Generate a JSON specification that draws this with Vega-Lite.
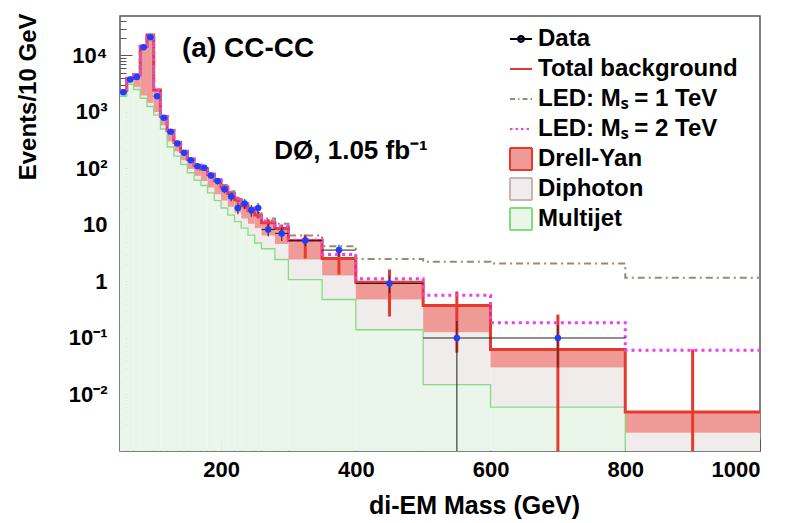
{
  "$schema": "https://vega.github.io/schema/vega-lite/v6.json",
  "width": 640,
  "height": 435,
  "autosize": {"type": "none"},
  "padding": {"left": 120, "top": 16, "right": 44, "bottom": 72},
  "background": "white",
  "config": {
    "view": {"stroke": "#555555", "strokeWidth": 1.5},
    "font": "Liberation Sans",
    "axis": {"grid": false, "domain": false, "labelFont": "Liberation Sans", "labelFontWeight": "bold", "labelFontSize": 22, "labelColor": "black", "titleFont": "Liberation Sans", "titleFontWeight": "bold", "titleFontSize": 24, "titleColor": "black", "tickColor": "#555555", "tickWidth": 1},
    "legend": {"symbolOpacity": 1}
  },
  "datasets": {
    "bins": [
      {"lo":50,"hi":60,"c":55,"tot":2400,"dp":2050,"mj":1900,"led1":2410,"led2":2405,"elo":2330,"ehi":2470},
      {"lo":60,"hi":70,"c":65,"tot":3950,"dp":3300,"mj":3100,"led1":3960,"led2":3955,"elo":3850,"ehi":4050},
      {"lo":70,"hi":80,"c":75,"tot":4550,"dp":2750,"mj":2500,"led1":4560,"led2":4555,"elo":4430,"ehi":4670},
      {"lo":80,"hi":90,"c":85,"tot":14600,"dp":1950,"mj":1750,"led1":14620,"led2":14610,"elo":14300,"ehi":14900},
      {"lo":90,"hi":100,"c":95,"tot":23000,"dp":1450,"mj":1250,"led1":23030,"led2":23010,"elo":22600,"ehi":23400},
      {"lo":100,"hi":110,"c":105,"tot":2450,"dp":1000,"mj":880,"led1":2460,"led2":2455,"elo":2380,"ehi":2520},
      {"lo":110,"hi":120,"c":115,"tot":830,"dp":580,"mj":500,"led1":836,"led2":833,"elo":800,"ehi":860},
      {"lo":120,"hi":130,"c":125,"tot":470,"dp":300,"mj":240,"led1":475,"led2":472,"elo":450,"ehi":490},
      {"lo":130,"hi":140,"c":135,"tot":290,"dp":200,"mj":165,"led1":294,"led2":292,"elo":277,"ehi":303},
      {"lo":140,"hi":150,"c":145,"tot":200,"dp":140,"mj":118,"led1":204,"led2":202,"elo":190,"ehi":210},
      {"lo":150,"hi":160,"c":155,"tot":146,"dp":98,"mj":84,"led1":150,"led2":148,"elo":137,"ehi":155},
      {"lo":160,"hi":170,"c":165,"tot":113,"dp":74,"mj":62,"led1":117,"led2":115,"elo":105,"ehi":121},
      {"lo":170,"hi":180,"c":175,"tot":98,"dp":60,"mj":50,"led1":102,"led2":100,"elo":91,"ehi":105},
      {"lo":180,"hi":190,"c":185,"tot":78,"dp":46,"mj":37,"led1":82,"led2":80,"elo":72,"ehi":84},
      {"lo":190,"hi":200,"c":195,"tot":61,"dp":35,"mj":27,"led1":65,"led2":63,"elo":56,"ehi":66},
      {"lo":200,"hi":210,"c":205,"tot":47,"dp":27,"mj":20,"led1":51,"led2":49,"elo":43,"ehi":51},
      {"lo":210,"hi":220,"c":215,"tot":36,"dp":21,"mj":15,"led1":39.5,"led2":37.5,"elo":32.5,"ehi":39.5},
      {"lo":220,"hi":230,"c":225,"tot":28,"dp":16.5,"mj":11.5,"led1":31,"led2":29,"elo":25,"ehi":31},
      {"lo":230,"hi":240,"c":235,"tot":22,"dp":13,"mj":8.8,"led1":24.5,"led2":23,"elo":19.5,"ehi":24.5},
      {"lo":240,"hi":250,"c":245,"tot":18,"dp":10.5,"mj":6.6,"led1":20.5,"led2":19,"elo":15.8,"ehi":20.2},
      {"lo":250,"hi":260,"c":255,"tot":15,"dp":8.8,"mj":4.8,"led1":17.5,"led2":16,"elo":13,"ehi":17},
      {"lo":260,"hi":280,"c":270,"tot":11,"dp":6.5,"mj":3.8,"led1":13,"led2":11.8,"elo":9.3,"ehi":12.7},
      {"lo":280,"hi":300,"c":290,"tot":8.7,"dp":4.6,"mj":2.45,"led1":10.5,"led2":9.3,"elo":7.2,"ehi":10.2},
      {"lo":300,"hi":350,"c":325,"tot":5.3,"dp":2.45,"mj":1.08,"led1":6.5,"led2":5.4,"elo":2.55,"ehi":6.8},
      {"lo":350,"hi":400,"c":375,"tot":2.55,"dp":1.28,"mj":0.48,"led1":4.2,"led2":3.0,"elo":1.33,"ehi":3.7},
      {"lo":400,"hi":500,"c":450,"tot":0.97,"dp":0.48,"mj":0.14,"led1":2.5,"led2":1.12,"elo":0.24,"ehi":1.63},
      {"lo":500,"hi":600,"c":550,"tot":0.376,"dp":0.127,"mj":0.015,"led1":2.23,"led2":0.57,"elo":0.055,"ehi":0.665},
      {"lo":600,"hi":800,"c":700,"tot":0.0625,"dp":0.03,"mj":0.006,"led1":2.08,"led2":0.186,"elo":0.0005,"ehi":0.26},
      {"lo":800,"hi":1000,"c":900,"tot":0.0049,"dp":0.0021,"mj":0.0004,"led1":1.16,"led2":0.061,"elo":0.0005,"ehi":0.063},
      {"lo":1000,"tot":0.0049,"dp":0.0021,"mj":0.0004,"led1":1.16,"led2":0.061}
    ],
    "pts": [
      {"m":55,"lo":50,"hi":60,"d":2240,"dlo":2193,"dhi":2287},
      {"m":65,"lo":60,"hi":70,"d":3760,"dlo":3699,"dhi":3821},
      {"m":75,"lo":70,"hi":80,"d":4150,"dlo":4086,"dhi":4214},
      {"m":85,"lo":80,"hi":90,"d":14000,"dlo":13882,"dhi":14118},
      {"m":95,"lo":90,"hi":100,"d":21000,"dlo":20855,"dhi":21145},
      {"m":105,"lo":100,"hi":110,"d":1900,"dlo":1856,"dhi":1944},
      {"m":115,"lo":110,"hi":120,"d":790,"dlo":762,"dhi":818},
      {"m":125,"lo":120,"hi":130,"d":447,"dlo":426,"dhi":468},
      {"m":135,"lo":130,"hi":140,"d":277,"dlo":260,"dhi":294},
      {"m":145,"lo":140,"hi":150,"d":190,"dlo":176,"dhi":204},
      {"m":155,"lo":150,"hi":160,"d":140,"dlo":128,"dhi":152},
      {"m":165,"lo":160,"hi":170,"d":110,"dlo":99.5,"dhi":120.5},
      {"m":175,"lo":170,"hi":180,"d":103,"dlo":93,"dhi":113},
      {"m":185,"lo":180,"hi":190,"d":75,"dlo":66.3,"dhi":83.7},
      {"m":195,"lo":190,"hi":200,"d":60,"dlo":52.3,"dhi":67.7},
      {"m":205,"lo":200,"hi":210,"d":43,"dlo":36.4,"dhi":49.6},
      {"m":215,"lo":210,"hi":220,"d":32,"dlo":26.3,"dhi":37.7},
      {"m":225,"lo":220,"hi":230,"d":20,"dlo":15.5,"dhi":24.5},
      {"m":235,"lo":230,"hi":240,"d":24,"dlo":19.1,"dhi":28.9},
      {"m":245,"lo":240,"hi":250,"d":18.3,"dlo":14,"dhi":22.6},
      {"m":255,"lo":250,"hi":260,"d":20,"dlo":15.5,"dhi":24.5},
      {"m":270,"lo":260,"hi":280,"d":8.3,"dlo":6.25,"dhi":10.35},
      {"m":290,"lo":280,"hi":300,"d":7.1,"dlo":5.2,"dhi":9.0},
      {"m":325,"lo":300,"hi":350,"d":5.3,"dlo":4.27,"dhi":6.33},
      {"m":375,"lo":350,"hi":400,"d":3.6,"dlo":2.75,"dhi":4.45},
      {"m":450,"lo":400,"hi":500,"d":0.92,"dlo":0.62,"dhi":1.22},
      {"m":550,"lo":500,"hi":600,"d":0.1,"dlo":0.0005,"dhi":0.2},
      {"m":700,"lo":600,"hi":800,"d":0.1,"dlo":0.03,"dhi":0.17}
    ],
    "legend": [
      {"series": "Data"},
      {"series": "Total background"},
      {"series": "LED: Mₛ = 1 TeV"},
      {"series": "LED: Mₛ = 2 TeV"},
      {"series": "Drell-Yan"},
      {"series": "Diphoton"},
      {"series": "Multijet"}
    ],
    "notes": [
      {"label": "(a) CC-CC", "mx": 142, "vy": 9400},
      {"label": "DØ, 1.05 fb⁻¹", "mx": 279, "vy": 147}
    ]
  },
  "layer": [
    {
      "data": {"name": "bins"},
      "transform": [{"filter": "isValid(datum.hi)"}],
      "mark": {"type": "rect", "clip": true, "color": "#e9f6e9"},
      "encoding": {
        "x": {"field": "lo", "type": "quantitative", "scale": {"domain": [50, 1000], "nice": false, "zero": false},
              "axis": {"values": [200, 400, 600, 800, 1000], "format": "d", "tickSize": -12, "labelPadding": 20, "title": "di-EM Mass (GeV)", "titleX": 354, "titleY": 62, "titleAlign": "center", "titleBaseline": "alphabetic", "titleFontSize": 25}},
        "x2": {"field": "hi"},
        "y": {"field": "mj", "type": "quantitative", "scale": {"type": "log", "domain": [0.001, 50000], "nice": false},
              "axis": {"orient": "left", "values": [0.01, 0.1, 1, 10, 100, 1000, 10000], "tickSize": -12, "labelPadding": 25,
                       "labelExpr": "datum.value == 10000 ? '10⁴' : datum.value == 1000 ? '10³' : datum.value == 100 ? '10²' : datum.value == 10 ? '10' : datum.value == 1 ? '1' : datum.value == 0.1 ? '10⁻¹' : '10⁻²'",
                       "title": "Events/10 GeV", "titleAngle": 270, "titleX": -92, "titleY": -3, "titleAlign": "right", "titleBaseline": "middle"}},
        "y2": {"datum": 0.001}
      }
    },
    {
      "data": {"name": "bins"},
      "transform": [{"filter": "isValid(datum.hi)"}],
      "mark": {"type": "rect", "clip": true, "color": "#f1ecec"},
      "encoding": {
        "x": {"field": "lo", "type": "quantitative", "scale": {"domain": [50, 1000], "nice": false, "zero": false}},
        "x2": {"field": "hi"},
        "y": {"field": "dp", "type": "quantitative", "scale": {"type": "log", "domain": [0.001, 50000], "nice": false},
              "axis": {"orient": "left", "values": [0.002,0.003,0.004,0.005,0.006,0.007,0.008,0.009,0.02,0.03,0.04,0.05,0.06,0.07,0.08,0.09,0.2,0.3,0.4,0.5,0.6,0.7,0.8,0.9,2,3,4,5,6,7,8,9,20,30,40,50,60,70,80,90,200,300,400,500,600,700,800,900,2000,3000,4000,5000,6000,7000,8000,9000,20000,30000,40000], "tickSize": -6, "labels": false, "title": null}},
        "y2": {"field": "mj"}
      }
    },
    {
      "data": {"name": "bins"},
      "transform": [{"filter": "isValid(datum.hi)"}],
      "mark": {"type": "rect", "clip": true, "color": "#ef9a96"},
      "encoding": {
        "x": {"field": "lo", "type": "quantitative", "scale": {"domain": [50, 1000], "nice": false, "zero": false}},
        "x2": {"field": "hi"},
        "y": {"field": "tot", "type": "quantitative", "scale": {"type": "log", "domain": [0.001, 50000], "nice": false}, "axis": null},
        "y2": {"field": "dp"}
      }
    },
    {
      "data": {"name": "bins"},
      "mark": {"type": "line", "interpolate": "step-after", "clip": true, "color": "#86dc86", "strokeWidth": 1.3},
      "encoding": {
        "x": {"field": "lo", "type": "quantitative", "scale": {"domain": [50, 1000], "nice": false, "zero": false}},
        "y": {"field": "mj", "type": "quantitative", "scale": {"type": "log", "domain": [0.001, 50000], "nice": false}, "axis": null}
      }
    },
    {
      "data": {"name": "bins"},
      "mark": {"type": "line", "interpolate": "step-after", "clip": true, "strokeWidth": 3, "color": "#e63a2e"},
      "encoding": {
        "x": {"field": "lo", "type": "quantitative", "scale": {"domain": [50, 1000], "nice": false, "zero": false}},
        "y": {"field": "tot", "type": "quantitative", "scale": {"type": "log", "domain": [0.001, 50000], "nice": false}, "axis": null}
      }
    },
    {
      "data": {"name": "bins"},
      "transform": [{"filter": "isValid(datum.hi)"}],
      "mark": {"type": "rule", "clip": true, "color": "#e63a2e", "strokeWidth": 3},
      "encoding": {
        "x": {"field": "c", "type": "quantitative", "scale": {"domain": [50, 1000], "nice": false, "zero": false}},
        "y": {"field": "elo", "type": "quantitative", "scale": {"type": "log", "domain": [0.001, 50000], "nice": false}, "axis": null},
        "y2": {"field": "ehi"}
      }
    },
    {
      "data": {"name": "bins"},
      "mark": {"type": "line", "interpolate": "step-after", "clip": true, "strokeWidth": 2, "strokeDash": [7, 4, 2, 4], "color": "#9c877b"},
      "encoding": {
        "x": {"field": "lo", "type": "quantitative", "scale": {"domain": [50, 1000], "nice": false, "zero": false}},
        "y": {"field": "led1", "type": "quantitative", "scale": {"type": "log", "domain": [0.001, 50000], "nice": false}, "axis": null}
      }
    },
    {
      "data": {"name": "bins"},
      "mark": {"type": "line", "interpolate": "step-after", "clip": true, "strokeWidth": 3, "strokeDash": [3, 4], "color": "#ee3fee"},
      "encoding": {
        "x": {"field": "lo", "type": "quantitative", "scale": {"domain": [50, 1000], "nice": false, "zero": false}},
        "y": {"field": "led2", "type": "quantitative", "scale": {"type": "log", "domain": [0.001, 50000], "nice": false}, "axis": null}
      }
    },
    {
      "data": {"name": "pts"},
      "mark": {"type": "rule", "clip": true, "color": "#222222", "strokeWidth": 1},
      "encoding": {
        "x": {"field": "lo", "type": "quantitative", "scale": {"domain": [50, 1000], "nice": false, "zero": false}},
        "x2": {"field": "hi"},
        "y": {"field": "d", "type": "quantitative", "scale": {"type": "log", "domain": [0.001, 50000], "nice": false}, "axis": null}
      }
    },
    {
      "data": {"name": "pts"},
      "mark": {"type": "rule", "clip": true, "color": "#222222", "strokeWidth": 1.3, "opacity": 0.8},
      "encoding": {
        "x": {"field": "m", "type": "quantitative", "scale": {"domain": [50, 1000], "nice": false, "zero": false}},
        "y": {"field": "dlo", "type": "quantitative", "scale": {"type": "log", "domain": [0.001, 50000], "nice": false}, "axis": null},
        "y2": {"field": "dhi"}
      }
    },
    {
      "data": {"name": "pts"},
      "mark": {"type": "point", "filled": true, "size": 42, "opacity": 1, "clip": true, "color": "#1f3fff"},
      "encoding": {
        "x": {"field": "m", "type": "quantitative", "scale": {"domain": [50, 1000], "nice": false, "zero": false}},
        "y": {"field": "d", "type": "quantitative", "scale": {"type": "log", "domain": [0.001, 50000], "nice": false}, "axis": null}
      }
    },
    {
      "data": {"name": "notes"},
      "transform": [{"filter": "datum.mx < 200"}],
      "mark": {"type": "text", "align": "left", "baseline": "alphabetic", "font": "Liberation Sans", "fontWeight": "bold", "fontSize": 28, "color": "black"},
      "encoding": {
        "text": {"field": "label"},
        "x": {"field": "mx", "type": "quantitative", "scale": {"domain": [50, 1000], "nice": false, "zero": false}},
        "y": {"field": "vy", "type": "quantitative", "scale": {"type": "log", "domain": [0.001, 50000], "nice": false}, "axis": null}
      }
    },
    {
      "data": {"name": "notes"},
      "transform": [{"filter": "datum.mx > 200"}],
      "mark": {"type": "text", "align": "left", "baseline": "alphabetic", "font": "Liberation Sans", "fontWeight": "bold", "fontSize": 26, "color": "black"},
      "encoding": {
        "text": {"field": "label"},
        "x": {"field": "mx", "type": "quantitative", "scale": {"domain": [50, 1000], "nice": false, "zero": false}},
        "y": {"field": "vy", "type": "quantitative", "scale": {"type": "log", "domain": [0.001, 50000], "nice": false}, "axis": null}
      }
    },
    {
      "data": {"name": "legend"},
      "mark": {"type": "point", "filled": true, "opacity": 0, "size": 484},
      "encoding": {
        "fill": {"field": "series", "type": "nominal",
                 "scale": {"domain": ["Data", "Total background", "LED: Mₛ = 1 TeV", "LED: Mₛ = 2 TeV", "Drell-Yan", "Diphoton", "Multijet"], "range": ["#1f3fff", "transparent", "transparent", "transparent", "#ef9a96", "#f1ecec", "#e9f6e9"]},
                 "legend": {"orient": "none", "legendX": 389, "legendY": 11, "title": null, "padding": 0,
                            "labelFont": "Liberation Sans", "labelFontWeight": "bold", "labelFontSize": 24, "labelColor": "black", "labelLimit": 400, "labelOffset": 5,
                            "symbolSize": 484, "symbolOpacity": 1, "symbolStrokeWidth": 2, "rowPadding": 6, "clipHeight": 24}},
        "stroke": {"field": "series", "type": "nominal",
                   "scale": {"domain": ["Data", "Total background", "LED: Mₛ = 1 TeV", "LED: Mₛ = 2 TeV", "Drell-Yan", "Diphoton", "Multijet"], "range": ["#000000", "#e63a2e", "#9c877b", "#ee3fee", "#e63a2e", "#c8b4b4", "#7fdc7f"]}},
        "shape": {"field": "series", "type": "nominal",
                  "scale": {"domain": ["Data", "Total background", "LED: Mₛ = 1 TeV", "LED: Mₛ = 2 TeV", "Drell-Yan", "Diphoton", "Multijet"], "range": ["M-1,0H1M-0.27,0A0.27,0.27 0 1,1 0.27,0A0.27,0.27 0 1,1 -0.27,0Z", "M-1,0H1", "M-1,0H1", "M-1,0H1", "M-1,-1H1V1H-1Z", "M-1,-1H1V1H-1Z", "M-1,-1H1V1H-1Z"]}},
        "strokeDash": {"field": "series", "type": "nominal",
                       "scale": {"domain": ["Data", "Total background", "LED: Mₛ = 1 TeV", "LED: Mₛ = 2 TeV", "Drell-Yan", "Diphoton", "Multijet"], "range": [[1, 0], [1, 0], [5, 3, 1.5, 3], [2.5, 3], [1, 0], [1, 0], [1, 0]]}}
      }
    }
  ],
  "resolve": {"axis": {"y": "independent"}}
}
